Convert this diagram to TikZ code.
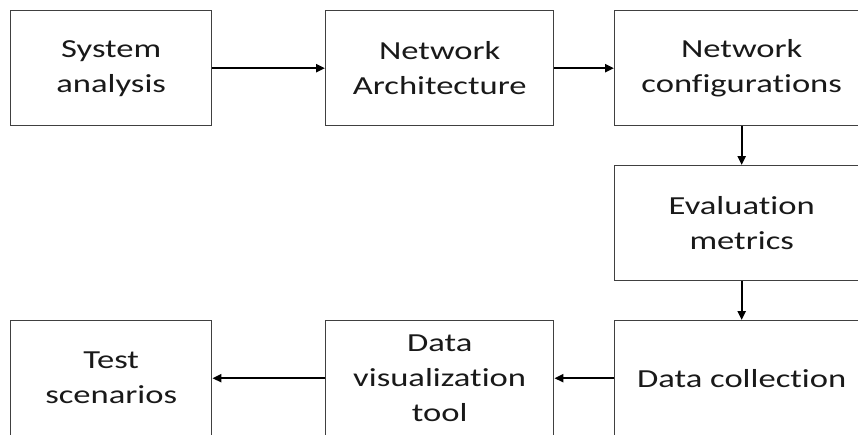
\documentclass[tikz,border=0pt]{standalone}
\usepackage{fontspec}
\setmainfont{Carlito}[FakeStretch=1.33, Ligatures=NoCommon]
\usetikzlibrary{arrows.meta}
\begin{document}
\begin{tikzpicture}[x=1pt,y=-1pt,
  stagebox/.style={draw=black!75, line width=1.4pt, fill=white, anchor=north west,
    inner sep=0pt, align=center, font=\fontsize{26}{35}\selectfont,
    text=black!90},
  flow/.style={draw=black, line width=2.2pt, -{Triangle[length=9pt,width=8pt]}}]
\useasboundingbox (0,0) rectangle (858,434);
\clip (0,0) rectangle (858,434);
\fill[white] (0,0) rectangle (858,434);
% top row
\node[stagebox, minimum width=201pt, minimum height=115pt] (sys) at (10,10) {System\\analysis};
\node[stagebox, minimum width=228pt, minimum height=115pt] (arch) at (325,10) {Network\\Architecture};
\node[stagebox, minimum width=254pt, minimum height=115pt] (conf) at (614,10) {Network\\configurations};
% middle
\node[stagebox, minimum width=254pt, minimum height=115pt] (eval) at (614,165) {Evaluation\\metrics};
% bottom row
\node[stagebox, minimum width=254pt, minimum height=115pt] (coll) at (614,320) {Data collection};
\node[stagebox, minimum width=228pt, minimum height=115pt] (vis) at (325,320) {Data\\visualization\\tool};
\node[stagebox, minimum width=201pt, minimum height=115pt] (test) at (10,320) {Test\\scenarios};
% connectors
\draw[flow] (sys.east) -- (arch.west);
\draw[flow] (arch.east) -- (conf.west);
\draw[flow] (conf.south) -- (eval.north);
\draw[flow] (eval.south) -- (coll.north);
\draw[flow] (coll.west) -- (vis.east);
\draw[flow] (vis.west) -- (test.east);
\end{tikzpicture}
\end{document}
